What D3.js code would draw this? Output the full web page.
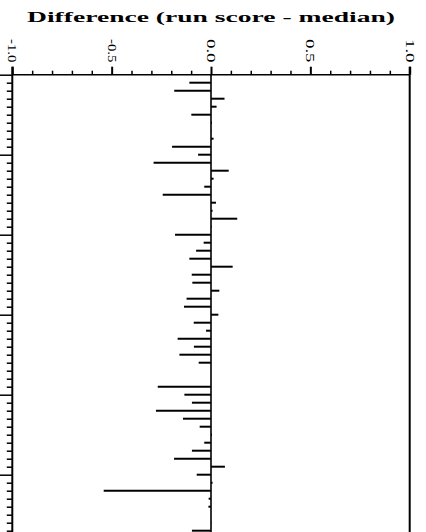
<!DOCTYPE html>
<html>
<head>
<meta charset="utf-8">
<script src="https://cdn.jsdelivr.net/npm/d3@7"></script>
<style>
  html, body { margin: 0; padding: 0; background: #fff; }
  svg { display: block; }
  text { font-family: "Liberation Serif", "Times New Roman", serif; fill: #000; }
</style>
</head>
<body>
<svg id="chart" width="426" height="532"></svg>
<script>
// ---- data ----
const title = "Difference (run score - median)";
const runs = [1,2,3,4,5,6,7,8,9,10,11,12,13,14,15,16,17,18,19,20,
              21,22,23,24,25,26,27,28,29,30,31,32,33,34,35,36,37,38,39,40,
              41,42,43,44,45,46,47,48,49,50,51,52,53,54,55,56,57];
const differences = [
  -0.109, -0.185, 0.068, 0.028, -0.099, 0.005, 0.002, 0.013, -0.196, -0.065,
  -0.289, 0.089, 0.013, -0.034, -0.243, 0.025, 0.008, 0.132, 0.003, -0.181,
  -0.037, -0.075, -0.109, 0.109, -0.097, -0.094, 0.042, -0.123, -0.136, 0.037,
  -0.087, -0.025, -0.168, -0.086, -0.159, -0.062, 0.0, 0.0, -0.268, -0.134,
  -0.096, -0.277, -0.141, -0.057, 0.005, -0.034, -0.096, -0.186, 0.070, -0.072,
  0.008, -0.540, -0.012, -0.013, 0.0, 0.002, -0.096
];
const xTickValues = [-1.0, -0.5, 0.0, 0.5, 1.0];
const xTickLabels = ["-1.0", "-0.5", "0.0", "0.5", "1.0"];
const xMinorTicks = [-0.9,-0.8,-0.7,-0.6,-0.4,-0.3,-0.2,-0.1,0.1,0.2,0.3,0.4,0.6,0.7,0.8,0.9];
const yMajorTicks = [0, 10, 20, 30, 40, 50];
const yDomainMax = 58;

(function () {
// ---- layout ----
const svg = d3.select("#chart");
const mLeft = 12.3, mRight = 409.7, mTop = 74.7;
const x = d3.scaleLinear().domain([-1, 1]).range([mLeft, mRight]);
const y = d3.scaleLinear().domain([0, yDomainMax]).range([mTop, mTop + 8 * yDomainMax]);
const mBottom = y(yDomainMax);

// title
svg.append("text")
  .attr("x", 211).attr("y", 21.5)
  .attr("text-anchor", "middle")
  .attr("font-size", 15).attr("font-weight", "bold")
  .attr("textLength", 368).attr("lengthAdjust", "spacingAndGlyphs")
  .text(title);

// top axis: minor ticks
svg.append("g").attr("transform", `translate(0,${mTop})`)
  .call(d3.axisTop(x).tickValues(xMinorTicks).tickSize(4).tickFormat(""))
  .call(g => g.select(".domain").remove())
  .call(g => g.selectAll("line").attr("stroke", "#000").attr("stroke-width", 1.5));
svg.append("g").attr("transform", `translate(0,${mTop})`)
  .call(d3.axisTop(x).tickValues(xTickValues).tickSize(8).tickFormat(""))
  .call(g => g.select(".domain").remove())
  .call(g => g.selectAll("line").attr("stroke", "#000").attr("stroke-width", 2));

// top axis line
svg.append("line")
  .attr("x1", mLeft).attr("x2", mRight).attr("y1", mTop).attr("y2", mTop)
  .attr("stroke", "#000").attr("stroke-width", 1.5);

// rotated tick labels
svg.selectAll("text.xlab").data(xTickValues).join("text")
  .attr("class", "xlab")
  .attr("transform", d => `translate(${x(d) - 4},${62.5}) rotate(90)`)
  .attr("text-anchor", "end")
  .attr("font-size", 12)
  .attr("textLength", 23.5).attr("lengthAdjust", "spacingAndGlyphs")
  .text((d, i) => xTickLabels[i]);

// left axis ticks
const minorY = d3.range(1, yDomainMax + 1).filter(v => v % 10 !== 0);
svg.append("g").attr("transform", `translate(${mLeft},0)`)
  .call(d3.axisLeft(y).tickValues(minorY).tickSize(5.5).tickFormat(""))
  .call(g => g.select(".domain").remove())
  .call(g => g.selectAll("line").attr("stroke", "#000").attr("stroke-width", 1.5));
svg.append("g").attr("transform", `translate(${mLeft},0)`)
  .call(d3.axisLeft(y).tickValues(yMajorTicks).tickSize(13).tickFormat(""))
  .call(g => g.select(".domain").remove())
  .call(g => g.selectAll("line").attr("stroke", "#000").attr("stroke-width", 1.5));

// frame: left and right verticals
svg.append("line").attr("x1", mLeft).attr("x2", mLeft).attr("y1", mTop - 8).attr("y2", mBottom)
  .attr("stroke", "#000").attr("stroke-width", 2);
svg.append("line").attr("x1", mRight).attr("x2", mRight).attr("y1", mTop - 8).attr("y2", mBottom)
  .attr("stroke", "#000").attr("stroke-width", 2);

// zero line
svg.append("line").attr("x1", x(0)).attr("x2", x(0)).attr("y1", mTop).attr("y2", mBottom)
  .attr("stroke", "#000").attr("stroke-width", 1.6);

// bars
svg.selectAll("line.bar").data(differences).join("line")
  .attr("class", "bar")
  .attr("x1", x(0))
  .attr("x2", d => x(d))
  .attr("y1", (d, i) => y(runs[i]))
  .attr("y2", (d, i) => y(runs[i]))
  .attr("stroke", "#000").attr("stroke-width", 2);
})();
</script>
</body>
</html>
